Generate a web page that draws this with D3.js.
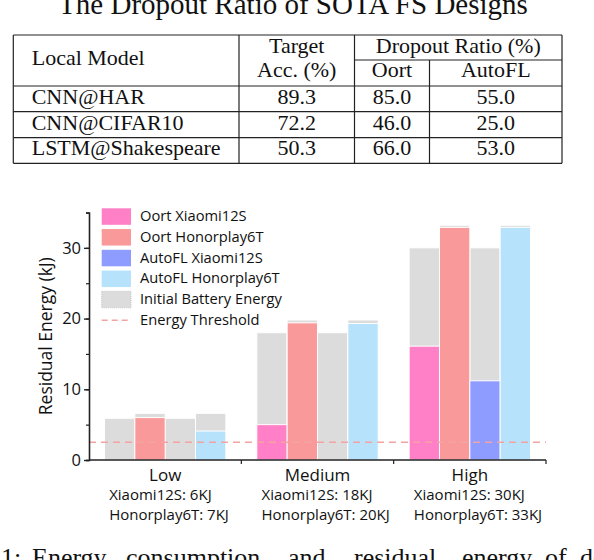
<!DOCTYPE html>
<html lang="en">
<head>
<meta charset="utf-8">
<title>Residual Energy</title>
<script src="https://cdnjs.cloudflare.com/ajax/libs/d3/7.8.5/d3.min.js"></script>
<style>
    body { margin: 0; background: #fff; }
    svg { display: block; }
    .serif text { font-family: "Liberation Serif", "Times New Roman", serif; fill: #111; }
    .chart text { font-family: "Open Sans", "Noto Sans", sans-serif; fill: #111; }
</style>
</head>
<body>
<svg id="fig" width="594" height="560"></svg>

<script>
    // table data
    const tableTitle = "The Dropout Ratio of SOTA FS Designs";
    const models = ["CNN@HAR", "CNN@CIFAR10", "LSTM@Shakespeare"];
    const targetAcc = ["89.3", "72.2", "50.3"];
    const oortDrop = ["85.0", "46.0", "66.0"];
    const autoflDrop = ["55.0", "25.0", "53.0"];

    // chart data (kJ)
    const groups = ["Low", "Medium", "High"];
    const xiaomiLabels = ["Xiaomi12S: 6KJ", "Xiaomi12S: 18KJ", "Xiaomi12S: 30KJ"];
    const honorLabels = ["Honorplay6T: 7KJ", "Honorplay6T: 20KJ", "Honorplay6T: 33KJ"];
    const xiaomiInitial = [5.9, 18.0, 30.0];
    const honorInitial = [6.6, 19.8, 33.2];
    const oortXiaomi = [0, 5.0, 16.1];
    const oortHonor = [6.0, 19.4, 32.9];
    const autoflXiaomi = [0, 0, 11.2];
    const autoflHonor = [4.1, 19.3, 32.9];
    const threshold = 2.5;
    const yTicks = [0, 10, 20, 30];
    const seriesNames = ["Oort Xiaomi12S", "Oort Honorplay6T", "AutoFL Xiaomi12S", "AutoFL Honorplay6T"];
    const seriesColors = ["#ff80c6", "#fa9999", "#8f9cff", "#b6e2fb"];

    const caption = ["1:", "Energy", "consumption", "and", "residual", "energy", "of", "dev"];

    const svg = d3.select("#fig");

    // ---------- table ----------
    const tbl = svg.append("g").attr("class", "serif");

    // title is cut by the top edge, as in the picture
    tbl.append("text")
        .attr("x", 293).attr("y", 14)
        .attr("text-anchor", "middle")
        .style("font-size", "29px")
        .text(tableTitle);

    const colX = [13.3, 239, 354.5, 429.5, 562];
    const rowY = [35, 86, 111.7, 137.7, 163.3];
    const line = (x1, y1, x2, y2) => tbl.append("line")
        .attr("x1", x1).attr("y1", y1).attr("x2", x2).attr("y2", y2)
        .attr("stroke", "#222").attr("stroke-width", 1.2);

    rowY.forEach(yy => line(colX[0], yy, colX[4], yy));
    line(colX[2], 60, colX[4], 60);
    [0, 1, 2, 4].forEach(i => line(colX[i], rowY[0], colX[i], rowY[4]));
    line(colX[3], 60, colX[3], rowY[4]);

    const cell = (x, yy, t, anchor) => tbl.append("text")
        .attr("x", x).attr("y", yy)
        .attr("text-anchor", anchor || "middle")
        .style("font-size", "22px")
        .text(t);

    cell(31.7, 65, "Local Model", "start");
    cell((colX[1] + colX[2]) / 2, 53.3, "Target");
    cell((colX[1] + colX[2]) / 2, 77, "Acc. (%)");
    cell((colX[2] + colX[4]) / 2, 53.3, "Dropout Ratio (%)");
    cell((colX[2] + colX[3]) / 2, 77, "Oort");
    cell((colX[3] + colX[4]) / 2, 77, "AutoFL");

    models.forEach((m, i) => {
        const yy = rowY[i + 2] - 8;
        cell(31.7, yy, m, "start");
        cell((colX[1] + colX[2]) / 2, yy, targetAcc[i]);
        cell((colX[2] + colX[3]) / 2, yy, oortDrop[i]);
        cell((colX[3] + colX[4]) / 2, yy, autoflDrop[i]);
    });

    // ---------- bar chart ----------
    const chart = svg.append("g").attr("class", "chart");
    const plotLeft = 89, plotRight = 546, plotBottom = 460, plotTop = 212.5;

    const x0 = d3.scaleBand().domain(groups).range([plotLeft, plotRight]).padding(0);
    const x1 = d3.scaleBand().domain(seriesNames).range([0, x0.bandwidth()])
        .paddingInner(0).paddingOuter(0.51);
    const y = d3.scaleLinear().domain([0, 35]).range([plotBottom, plotTop]);

    const initial = [xiaomiInitial, honorInitial, xiaomiInitial, honorInitial];
    const residual = [oortXiaomi, oortHonor, autoflXiaomi, autoflHonor];

    const bars = [];
    groups.forEach((g, gi) => {
        seriesNames.forEach((s, si) => {
            bars.push({g: g, s: s, si: si, init: initial[si][gi], res: residual[si][gi]});
        });
    });

    const barG = chart.append("g");
    barG.selectAll(".init")
        .data(bars)
        .enter().append("rect")
        .attr("class", "init")
        .attr("x", d => x0(d.g) + x1(d.s))
        .attr("width", x1.bandwidth())
        .attr("y", d => y(d.init))
        .attr("height", d => y(0) - y(d.init))
        .attr("fill", "#dcdcdc")
        .attr("stroke", "#fff").attr("stroke-width", 1);

    barG.selectAll(".res")
        .data(bars.filter(d => d.res > 0))
        .enter().append("rect")
        .attr("class", "res")
        .attr("x", d => x0(d.g) + x1(d.s))
        .attr("width", x1.bandwidth())
        .attr("y", d => y(d.res))
        .attr("height", d => y(0) - y(d.res))
        .attr("fill", d => seriesColors[d.si])
        .attr("stroke", "#fff").attr("stroke-width", 1);

    // threshold
    chart.append("line")
        .attr("x1", plotLeft).attr("x2", plotRight)
        .attr("y1", y(threshold)).attr("y2", y(threshold))
        .attr("stroke", "#f4a3a3").attr("stroke-width", 1.5)
        .attr("stroke-dasharray", "7,5");

    // y axis
    const yAxis = chart.append("g").attr("transform", "translate(" + plotLeft + ",0)");
    yAxis.call(d3.axisLeft(y).tickValues(d3.range(0, 36, 5)).tickSize(3).tickFormat(""));
    yAxis.call(g => g.selectAll(".tick line").attr("stroke", "#222").attr("stroke-width", 1.2));
    yAxis.append("g").call(d3.axisLeft(y).tickValues(yTicks).tickSize(5).tickPadding(3))
        .call(g => g.select(".domain").remove())
        .call(g => g.selectAll(".tick line").attr("stroke", "#222").attr("stroke-width", 1.4))
        .call(g => g.selectAll(".tick text")
            .style("font-family", "'Open Sans', sans-serif")
            .style("font-size", "16.5px").attr("fill", "#111"));
    yAxis.select(".domain").attr("stroke", "#222").attr("stroke-width", 1.6);

    chart.append("text")
        .attr("transform", "translate(47," + ((plotTop + plotBottom) / 2) + ") rotate(-90)")
        .attr("text-anchor", "middle")
        .attr("dominant-baseline", "middle")
        .style("font-size", "17.5px")
        .text("Residual Energy (kJ)");

    // x axis
    const xAxis = chart.append("g").attr("transform", "translate(0," + plotBottom + ")");
    xAxis.append("line").attr("x1", plotLeft).attr("x2", plotRight)
        .attr("stroke", "#222").attr("stroke-width", 1.6);
    xAxis.selectAll(".sep")
        .data(groups.slice(1).concat(["end"]))
        .enter().append("line")
        .attr("x1", d => d === "end" ? plotRight : x0(d))
        .attr("x2", d => d === "end" ? plotRight : x0(d))
        .attr("y1", 0).attr("y2", 4)
        .attr("stroke", "#222").attr("stroke-width", 1.2);

    const lab = xAxis.selectAll(".lab")
        .data(groups)
        .enter().append("g")
        .attr("transform", d => "translate(" + (x0(d) + x0.bandwidth() / 2) + ",0)");
    lab.append("text")
        .attr("y", 16).attr("text-anchor", "middle")
        .attr("dominant-baseline", "middle")
        .style("font-size", "17px")
        .text(d => d);
    lab.append("text")
        .attr("x", -56).attr("y", 35.5)
        .attr("dominant-baseline", "middle")
        .style("font-size", "15px")
        .text((d, i) => xiaomiLabels[i]);
    lab.append("text")
        .attr("x", -56).attr("y", 56)
        .attr("dominant-baseline", "middle")
        .style("font-size", "15px")
        .text((d, i) => honorLabels[i]);

    // legend
    const legend = chart.append("g").attr("transform", "translate(101.7,208.3)");
    const legendItems = seriesNames.concat(["Initial Battery Energy", "Energy Threshold"]);
    const li = legend.selectAll(".item")
        .data(legendItems)
        .enter().append("g")
        .attr("transform", (d, i) => "translate(0," + (i * 20.75) + ")");
    li.filter((d, i) => i < 5).append("rect")
        .attr("width", 29.3).attr("height", 16.5)
        .attr("fill", (d, i) => i < 4 ? seriesColors[i] : "#dcdcdc")
        .attr("stroke", (d, i) => i < 4 ? "none" : "#c8c8c8")
        .attr("stroke-dasharray", "1,1");
    li.filter((d, i) => i === 5).append("line")
        .attr("x1", 0).attr("x2", 29.3).attr("y1", 8.25).attr("y2", 8.25)
        .attr("stroke", "#f4a3a3").attr("stroke-width", 1.5)
        .attr("stroke-dasharray", "6,4");
    li.append("text")
        .attr("x", 38.3).attr("y", 8.8)
        .attr("dominant-baseline", "middle")
        .style("font-size", "14.7px")
        .text(d => d);

    // caption (cut at the bottom edge, as in the picture)
    const capX = [1, 32, 126, 288, 354, 462, 545, 580];
    svg.append("g").attr("class", "serif")
        .selectAll("text")
        .data(caption)
        .enter().append("text")
        .attr("x", (d, i) => capX[i])
        .attr("y", 566)
        .style("font-size", "26px")
        .text(d => d);
</script>
</body>
</html>
